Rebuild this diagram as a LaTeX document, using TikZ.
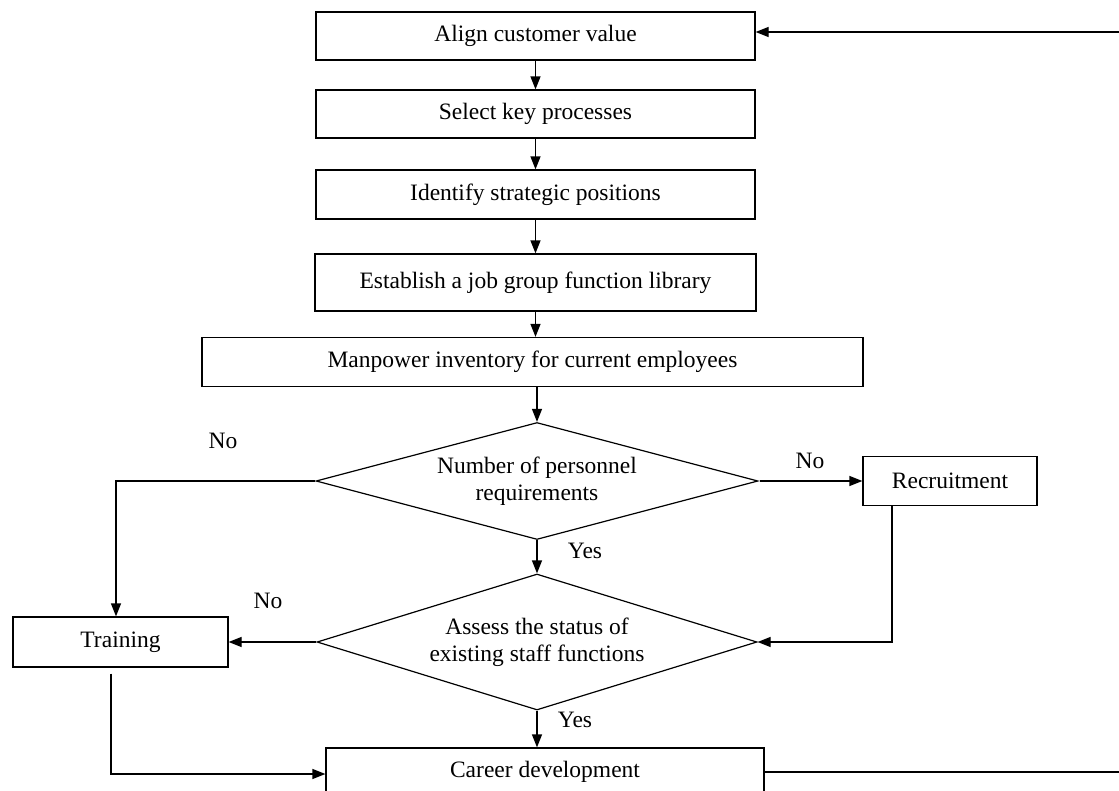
\documentclass[tikz,border=0pt]{standalone}
\usepackage{fontspec}
\setmainfont{Liberation Serif}
\usetikzlibrary{shapes.geometric, arrows.meta}
\tikzset{
    stage/.style={
        rectangle, draw=black, line width=1.2pt,
        minimum width=439pt, minimum height=48pt,
        inner sep=0pt, fill=white,
        font=\fontsize{23.5}{27}\selectfont
    },
    decision/.style={
        diamond, draw=black, line width=1.2pt,
        aspect=3.7, inner sep=0pt, align=center,
        fill=white, font=\fontsize{23.5}{27}\selectfont
    },
    flow/.style={draw=black, line width=1.2pt, -{Triangle[length=13pt, width=10pt]}},
    plain/.style={draw=black, line width=1.2pt},
    answer/.style={font=\fontsize{23.5}{27}\selectfont, inner sep=0pt}
}

\begin{document}
\begin{tikzpicture}[x=1pt, y=-1pt]
\useasboundingbox (0,0) rectangle (1119,790);
\clip (0,0) rectangle (1119,790);

% Main column
\node[stage] (align) at (535.5,36) {Align customer value};
\node[stage] (select) at (535.5,114) {Select key processes};
\node[stage, minimum height=49pt] (ident) at (535.5,194.5) {Identify strategic positions};
\node[stage, minimum width=441pt, minimum height=57pt] (lib) at (535.5,282.5) {Establish a job group function library};
\node[stage, minimum width=661pt, minimum height=49pt] (inv) at (532.5,362) {Manpower inventory for current employees};

% Decisions
\node[decision, minimum width=442pt, minimum height=117pt] (need) at (537,481) {Number of personnel\\requirements};
\node[decision, minimum width=440pt, minimum height=136pt] (assess) at (537,642) {Assess the status of\\existing staff functions};

% Side boxes
\node[stage, minimum width=174pt, minimum height=49pt] (recruit) at (950,481) {Recruitment};
\node[stage, minimum width=215pt, minimum height=50pt] (train) at (120.5,642) {Training};
\node[stage, minimum width=438pt] (career) at (545,772) {Career development};

\coordinate (back) at (1150,400);

% Connections
\draw[flow] (align) -- (select);
\draw[flow] (select) -- (ident);
\draw[flow] (ident) -- (lib);
\draw[flow] (lib) -- (lib.south |- inv.north);
\draw[flow] (need.north |- inv.south) -- (need.north);
\draw[flow] (need.south) -- (assess.north);
\draw[flow, shorten <=1pt] (need.east) -- (recruit.west);
\draw[flow] (need.west) -| (train.north -| 116,0);
\draw[flow] (recruit.south -| 892,0) |- (assess.east);
\draw[flow] (assess.west) -- (train.east);
\draw[flow] (assess.south) -- (assess.south |- career.north);
\draw[flow, shorten <=6pt] (train.south -| 111,0) |- (career.west |- 0,774);

% Feedback loop
\draw[plain] (career.east) -| (back);
\draw[flow] (back) |- ([yshift=4pt]align.east);

% Answers
\node[answer] (no1) at (223,441) {No};
\node[answer] (no2) at (810,461) {No};
\node[answer] (yes1) at (585,551) {Yes};
\node[answer] (no3) at (268,601) {No};
\node[answer] (yes2) at (575,720) {Yes};

\end{tikzpicture}
\end{document}
